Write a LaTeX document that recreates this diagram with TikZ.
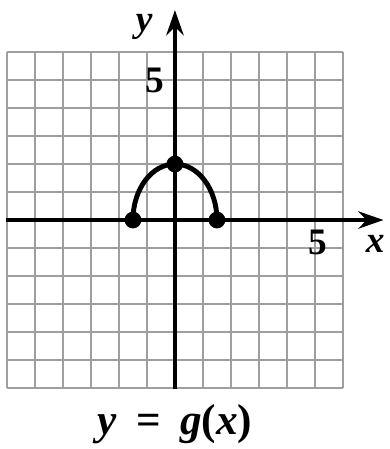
\documentclass[tikz,border=0pt]{standalone}
\usepackage{fontspec}
\setmainfont{Liberation Serif}
\usetikzlibrary{arrows.meta}

\begin{document}
\begin{tikzpicture}[x=1cm, y=1cm,
        font=\fontsize{38}{40}\selectfont\bfseries]
            \useasboundingbox (-6.25,-8.18) rectangle (7.68,7.86);

            % mřížka
            \draw[gray!75, line width=2.6pt] (-6,-6) grid (6,6);

            % osy
            \draw[line width=4.8pt, -{Stealth[length=0.9cm, width=0.62cm, inset=0.3cm]}]
                (-6.05,0)--(7.45,0);
            \draw[line width=4.8pt, -{Stealth[length=0.9cm, width=0.62cm, inset=0.3cm]}]
                (0,-6.05)--(0,7.5);

            % graf
            \draw[line width=5pt]
                (-1.5,0) arc[start angle=180, end angle=0, x radius=1.5, y radius=2];
            \fill (-1.5,0) circle (0.3);
            \fill (1.5,0) circle (0.3);
            \fill (0,2) circle (0.3);

            % popisky
            \node (ylab) at (-1.1,6.9) {\textit{y}};
            \node (xlab) at (7.15,-0.85) {\textit{x}};
            \node (yfive) at (-0.72,5.0) {5};
            \node (xfive) at (5.1,-0.8) {5};
            \node[font=\fontsize{44}{46}\selectfont\bfseries] (cap) at (0,-7.3)
                {\textit{y}\hspace{0.3cm} = \hspace{0.3cm}\textit{g}(\textit{x})};
        \end{tikzpicture}
\end{document}
